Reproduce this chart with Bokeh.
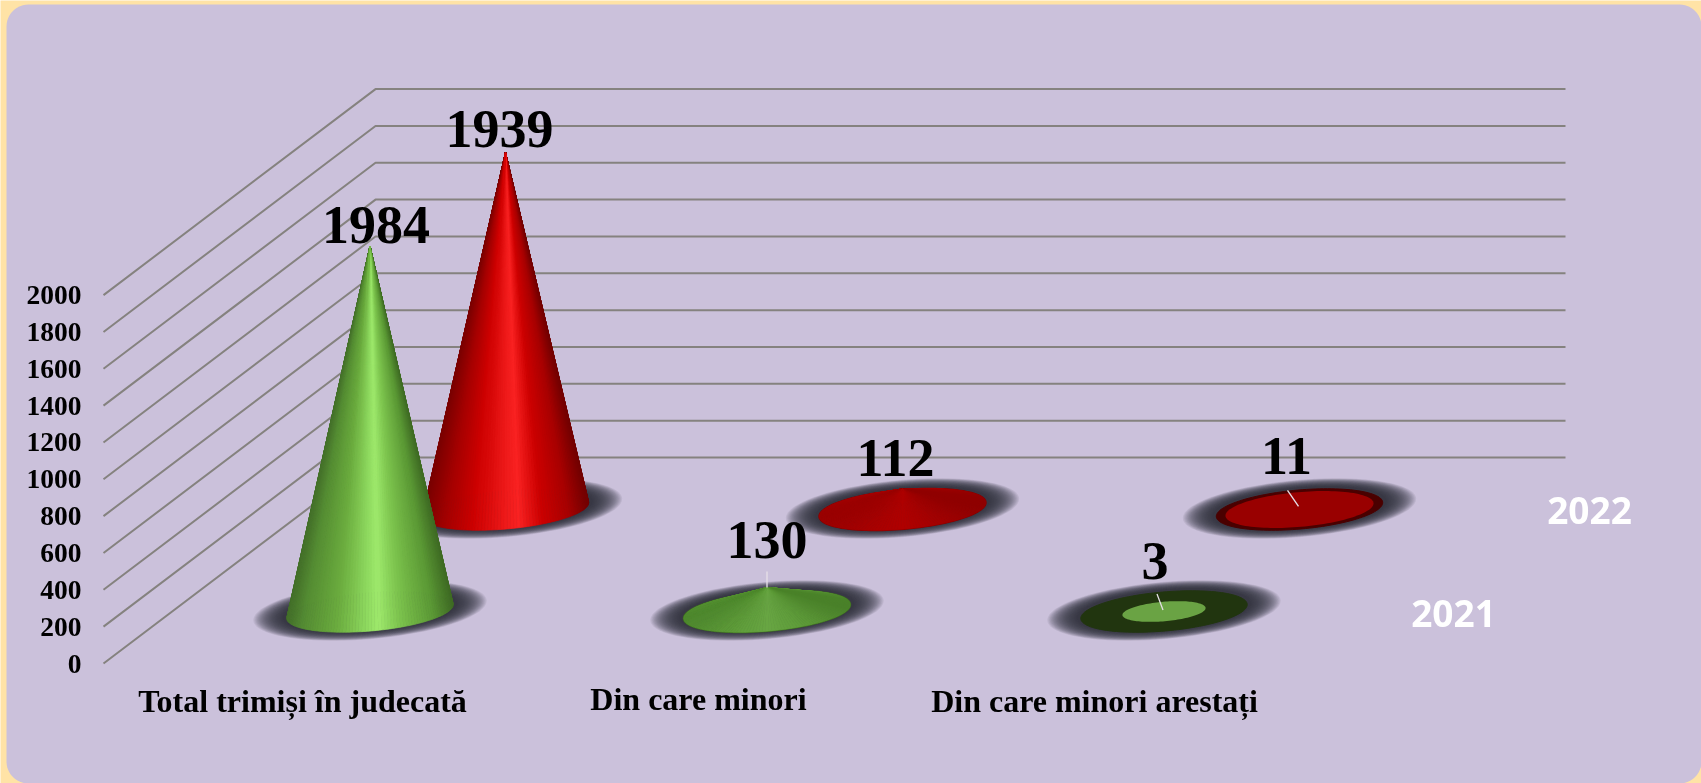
import math
from bokeh.plotting import figure
from bokeh.embed import file_html
from bokeh.resources import INLINE
from bokeh.core.properties import value

# ---- data ----
categories = ["Total trimiși în judecată", "Din care minori", "Din care minori arestați"]
series_names = ["2021", "2022"]
values_2021 = [1984, 130, 3]
values_2022 = [1939, 112, 11]
tick_values = [0, 200, 400, 600, 800, 1000, 1200, 1400, 1600, 1800, 2000]

# ---- layout of the pseudo-3D scene ----
W, H = 1701, 783
PX_PER_CAT = 397.0
PX_PER_UNIT = 0.1842
X0_PX, Y0_PX = 369.5, 663.0     # screen position of category 0 / value 0 on the front wall
FLOOR_PX = 52.0                 # how far the cone bases sit above the front floor edge
DEPTH_PX = (135.5, 102.0)       # shift of the second series
WALL_PX = (272.0, 206.0)        # depth of the gridded wall
GRID_LEFT_PX, GRID_RIGHT_PX = 103.0, 1565.0
A, B, TILT = 83.5, 19.5, math.radians(5)


def sx(px):
    return (px - X0_PX) / PX_PER_CAT


def sy(py):
    return (Y0_PX - py) / PX_PER_UNIT


def dx(px):
    return px / PX_PER_CAT


def dy(px):
    return px / PX_PER_UNIT


p = figure(width=W, height=H, x_range=(sx(0), sx(W)), y_range=(sy(H), sy(0)),
           x_axis_location=None, y_axis_location=None, toolbar_location=None,
           output_backend="svg", min_border=0, outline_line_color=None,
           background_fill_color="#FFE3A6", border_fill_color="#FFE3A6",
           styles={"position": "fixed", "left": "0px", "top": "0px"})
p.grid.visible = False

# ---- rounded panel ----
PL, PT, PR, PB, RAD = 6.0, 4.0, 1701.0, 783.0, 22.0
corners = [(PR - RAD, PT + RAD, -90, 0), (PR - RAD, PB - RAD, 0, 90),
           (PL + RAD, PB - RAD, 90, 180), (PL + RAD, PT + RAD, 180, 270)]
px_, py_ = [], []
for cx, cy, a0, a1 in corners:
    for k in range(13):
        a = math.radians(a0 + (a1 - a0) * k / 12)
        px_.append(sx(cx + RAD * math.cos(a)))
        py_.append(sy(cy + RAD * math.sin(a)))
p.patch(px_, py_, fill_color="#CBC1DB", line_color=None)

# ---- grid ----
GRID_COLOR = "#85827F"
for t in tick_values:
    y_back = t + dy(WALL_PX[1])
    p.line([sx(GRID_LEFT_PX), sx(GRID_LEFT_PX) + dx(WALL_PX[0]), sx(GRID_RIGHT_PX)],
           [t, y_back, y_back], line_color=GRID_COLOR, line_width=2)
    p.text([sx(81)], [t], text=[str(t)], text_font=value("Liberation Serif"),
           text_font_style="bold", text_font_size="27.5px", text_align="right",
           text_baseline="middle", text_color="#000000")


def hex2rgb(h):
    return tuple(int(h[i:i + 2], 16) for i in (1, 3, 5))


def ramp(stops, u):
    for (u0, c0), (u1, c1) in zip(stops, stops[1:]):
        if u <= u1:
            f = (u - u0) / (u1 - u0)
            a, b = hex2rgb(c0), hex2rgb(c1)
            return "#%02x%02x%02x" % tuple(round(a[i] + (b[i] - a[i]) * f) for i in range(3))
    return stops[-1][1]


def ellipse_pts(a, b, n=120):
    """Tilted ellipse outline as pixel offsets; a, b in pixels."""
    pts = []
    for k in range(n):
        t = 2 * math.pi * k / n
        ex = a * math.cos(t) * math.cos(TILT) - b * math.sin(t) * math.sin(TILT)
        ey = a * math.cos(t) * math.sin(TILT) + b * math.sin(t) * math.cos(TILT)
        pts.append((ex, ey))
    return pts


def draw_ellipse(cx, cy, a, b, **kw):
    pts = ellipse_pts(a, b)
    p.patch([cx + dx(e[0]) for e in pts], [cy + dy(e[1]) for e in pts], **kw)


def draw_shadow(cx, cy):
    n = 26
    for k in range(n):
        f = k / (n - 1)
        draw_ellipse(cx, cy + dy(1), 117 - 30 * f, 28.5 - 8 * f,
                     fill_color="#302C36", fill_alpha=0.085, line_color=None)


def draw_cone(cx, cy, val, stops, edge):
    if edge:
        draw_ellipse(cx, cy, A, B, fill_color=None, line_color=edge, line_width=2)
    n = 160
    order = ellipse_pts(A, B, n=n)
    xmax = max(e[0] for e in order)
    xs, ys, cols = [], [], []
    ax, ay = cx, cy + val
    for i in sorted(range(n), key=lambda i: -order[i][1]):
        e0, e1 = order[i], order[(i + 1) % n]
        u = ((e0[0] + e1[0]) / 2 + xmax) / (2 * xmax)
        xs.append([ax, cx + dx(e0[0]), cx + dx(e1[0])])
        ys.append([ay, cy + dy(e0[1]), cy + dy(e1[1])])
        cols.append(ramp(stops, u))
    p.patches(xs, ys, fill_color=cols, line_color=cols, line_width=0.7)


TALL_GREEN = [(0, "#44702A"), (0.1, "#558D33"), (0.3, "#6BAC3E"), (0.48, "#8FDA60"),
              (0.55, "#9EE96C"), (0.68, "#7CC34D"), (0.88, "#5B9935"), (1, "#3F6B24")]
TALL_RED = [(0, "#7A0000"), (0.12, "#A00000"), (0.3, "#CC0000"), (0.5, "#EE1A1A"),
            (0.58, "#F92222"), (0.72, "#CC0000"), (0.88, "#A80000"), (1, "#720000")]
FLAT_GREEN = [(0, "#4F8A2E"), (0.25, "#5C9A37"), (0.5, "#68A643"), (0.75, "#5C9A37"), (1, "#4A8229")]
FLAT_RED = [(0, "#9C0000"), (0.3, "#A80000"), (0.5, "#B00000"), (0.7, "#A60000"), (1, "#900000")]

# colour and detail per series
styles_ = {
    0: dict(tall=TALL_GREEN, flat=FLAT_GREEN, edge="#3E6C22", dark="#21350F", inner="#6AA344"),
    1: dict(tall=TALL_RED, flat=FLAT_RED, edge="#860000", dark="#4A0000", inner="#990000"),
}
base = dy(FLOOR_PX)
depth_x, depth_y = dx(DEPTH_PX[0]), dy(DEPTH_PX[1])

# tiny values: the opening seen from above, as a share of the base
inner_share = {(0, 2): 0.5, (1, 2): 0.89}
# (dx, dy) of each value label relative to the tip of its cone, in pixels
label_shift = {(0, 0): (6, 21), (0, 1): (0, 48), (0, 2): (-9, 50),
               (1, 0): (-6, 23), (1, 1): (-7, 31), (1, 2): (-13, 51)}
leaders = {(0, 1): ((0, 0), (0, 16)), (0, 2): ((-7, 17), (-1, 1)),
           (1, 2): ((-12, 17), (-1, 1))}

label_x, label_y, label_t = [], [], []
for s in (1, 0):
    vals = values_2022 if s == 1 else values_2021
    st = styles_[s]
    for i, v in enumerate(vals):
        draw_shadow(i + s * depth_x, base + s * depth_y)
    for i, v in enumerate(vals):
        cx = i + s * depth_x
        cy = base + s * depth_y
        if (s, i) in inner_share:
            f = inner_share[(s, i)]
            draw_ellipse(cx, cy, A, B, fill_color=st["dark"], line_color=st["dark"])
            draw_ellipse(cx, cy, A * f, B * f, fill_color=st["inner"], line_color=None)
        elif v < 500:
            draw_cone(cx, cy, v, st["flat"], st["edge"])
        else:
            draw_cone(cx, cy, v, st["tall"], None)
        if (s, i) in leaders:
            a, b = leaders[(s, i)]
            top = cy + v
            p.line([cx + dx(a[0]), cx + dx(b[0])], [top + dy(a[1]), top + dy(b[1])],
                   line_color="#E6E0E8", line_width=1.3)
        sh = label_shift[(s, i)]
        label_x.append(cx + dx(sh[0]))
        label_y.append(cy + v + dy(sh[1]))
        label_t.append(str(v))

p.text(label_x, label_y, text=label_t, text_font=value("Liberation Serif"), text_font_style="bold",
       text_font_size="54px", text_align="center", text_baseline="middle", text_color="#000000")

# ---- category labels ----
cat_x = [sx(302), sx(698), sx(1094)]
cat_y = [sy(700), sy(698), sy(700)]
p.text(cat_x, cat_y, text=categories, text_font=value("Liberation Serif"), text_font_style="bold",
       text_font_size="32px", text_align="center", text_baseline="middle", text_color="#000000")

# ---- series labels ----
p.text([sx(1453), sx(1589)], [sy(613), sy(510)], text=series_names, text_font=value("Open Sans"),
       text_font_style="bold", text_font_size="37px", text_align="center", text_baseline="middle",
       text_color="#FFFFFF")

open("out.html", "w").write(file_html(p, INLINE))
